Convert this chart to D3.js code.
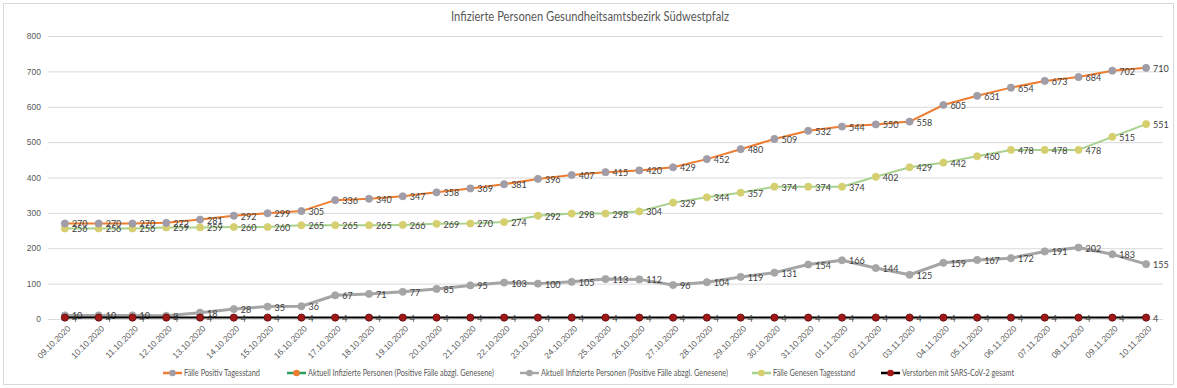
<!DOCTYPE html>
<html><head><meta charset="utf-8">
<script src="https://cdn.jsdelivr.net/npm/d3@7"></script>
<style>body{margin:0;background:#fff}svg{display:block;font-family:Lato,"Open Sans",sans-serif}</style>
</head><body><svg id="c" width="1177" height="388"></svg>
<script>
const dates = ["09.10.2020","10.10.2020","11.10.2020","12.10.2020","13.10.2020","14.10.2020","15.10.2020","16.10.2020","17.10.2020","18.10.2020","19.10.2020","20.10.2020","21.10.2020","22.10.2020","23.10.2020","24.10.2020","25.10.2020","26.10.2020","27.10.2020","28.10.2020","29.10.2020","30.10.2020","31.10.2020","01.11.2020","02.11.2020","03.11.2020","04.11.2020","05.11.2020","06.11.2020","07.11.2020","08.11.2020","09.11.2020","10.11.2020"];
const positiv = [270,270,270,272,281,292,299,305,336,340,347,358,369,381,396,407,415,420,429,452,480,509,532,544,550,558,605,631,654,673,684,702,710];
const genesen = [256,256,256,259,259,260,260,265,265,265,266,269,270,274,292,298,298,304,329,344,357,374,374,374,402,429,442,460,478,478,478,515,551];
const aktuell = [10,10,10,9,18,28,35,36,67,71,77,85,95,103,100,105,113,112,96,104,119,131,154,166,144,125,159,167,172,191,202,183,155];
const verstorben = [4,4,4,4,4,4,4,4,4,4,4,4,4,4,4,4,4,4,4,4,4,4,4,4,4,4,4,4,4,4,4,4,4];
const yTicks = [0,100,200,300,400,500,600,700,800];
const title = "Infizierte Personen Gesundheitsamtsbezirk Südwestpfalz";
const legendNames = ["Fälle Positiv Tagesstand","Aktuell Infizierte Personen (Positive Fälle abzgl. Genesene)","Aktuell Infizierte Personen (Positive Fälle abzgl. Genesene)","Fälle Genesen Tagesstand","Verstorben mit SARS-CoV-2 gesamt"];

const svg = d3.select("#c");
svg.append("rect").attr("x",3.5).attr("y",3.5).attr("width",1170).attr("height",381).attr("fill","#fff").attr("stroke","#d9d9d9");
svg.append("text").attr("x",590).attr("y",21).attr("text-anchor","middle").attr("font-size",12.5).attr("fill","#595959")
  .attr("textLength",278).attr("lengthAdjust","spacingAndGlyphs").text(title);

const x = d3.scaleBand().domain(dates).range([48,1163]);
const xc = d => x(d) + x.bandwidth()/2;
const y = d3.scaleLinear().domain([0,800]).range([319,36]);

const gy = svg.append("g").attr("transform","translate(48,0)")
  .call(d3.axisLeft(y).tickValues(yTicks).tickSize(-1115).tickPadding(7));
gy.select(".domain").remove();
gy.selectAll(".tick line").attr("stroke","#d9d9d9");
gy.selectAll(".tick text").attr("fill","#595959").attr("font-size",8.5);

const gx = svg.append("g").attr("transform","translate(0,319)")
  .call(d3.axisBottom(x).tickSize(0).tickPadding(0));
gx.select(".domain").remove();
gx.selectAll(".tick text").attr("fill","#595959").attr("font-size",8.5)
  .attr("text-anchor","end").attr("transform","translate(4,8) rotate(-45)").attr("dy","0.35em").attr("dx",0).attr("y",0);

const series = [
  {vals:aktuell, line:"#a5a5a5", w:3, mk:"#a5a5a5", ms:"#a5a5a5"},
  {vals:genesen, line:"#a9d18e", w:2, mk:"#d6cf70", ms:"#d6cf70"},
  {vals:positiv, line:"#ed7d31", w:2, mk:"#a09ca8", ms:"#a09ca8"},
  {vals:verstorben, line:"#000000", w:2, mk:"#a01818", ms:"#5a0a0a"}
];
const line = d3.line().x((d,i)=>xc(dates[i])).y(d=>y(d));
series.forEach(s=>{
  const g = svg.append("g");
  g.append("path").datum(s.vals).attr("d",line).attr("fill","none").attr("stroke",s.line).attr("stroke-width",s.w).attr("stroke-linejoin","round");
  g.selectAll("circle").data(s.vals).join("circle").attr("cx",(d,i)=>xc(dates[i])).attr("cy",d=>y(d)).attr("r",3.6)
    .attr("fill",s.mk).attr("stroke",s.ms).attr("stroke-width",0.8);
  g.selectAll("text").data(s.vals).join("text").attr("x",(d,i)=>xc(dates[i])+7).attr("y",d=>y(d)+4)
    .attr("font-size",9).attr("fill","#404040").text(d=>d);
});

const legendItems = [
  {name:legendNames[0], line:"#ed7d31", mk:"#a09ca8", x:163, w:76},
  {name:legendNames[1], line:"#2e9e5e", mk:"#ed7d31", x:287, w:186},
  {name:legendNames[2], line:"#a5a5a5", mk:"#a5a5a5", x:520, w:187},
  {name:legendNames[3], line:"#a9d18e", mk:"#d6cf70", x:752, w:82},
  {name:legendNames[4], line:"#000000", mk:"#a01818", x:881, w:112}
];
const lg = svg.append("g").attr("transform","translate(0,373)");
legendItems.forEach(l=>{
  lg.append("line").attr("x1",l.x).attr("x2",l.x+19).attr("y1",0).attr("y2",0).attr("stroke",l.line).attr("stroke-width",2.5);
  lg.append("circle").attr("cx",l.x+9.5).attr("cy",0).attr("r",3.3).attr("fill",l.mk);
  lg.append("text").attr("x",l.x+21).attr("y",3).attr("font-size",8.5).attr("fill","#595959")
    .attr("textLength",l.w).attr("lengthAdjust","spacingAndGlyphs").text(l.name);
});
</script></body></html>
